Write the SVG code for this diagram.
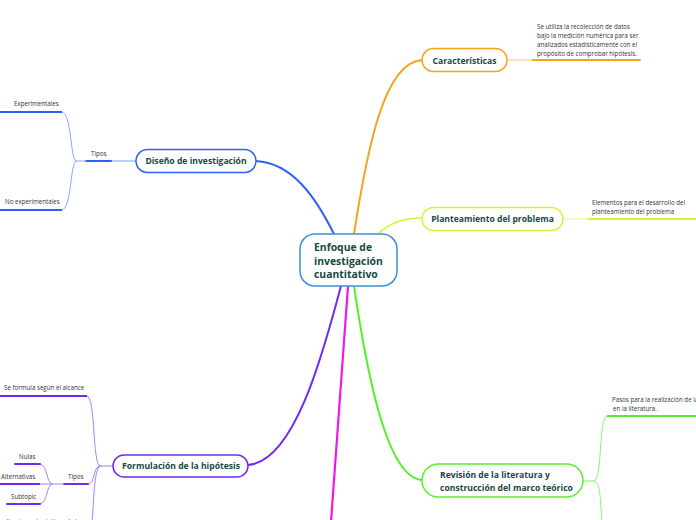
<svg xmlns="http://www.w3.org/2000/svg" width="696" height="520" viewBox="0 0 696 520">
<style>
.node{fill:#ffffff;stroke-width:1.5}
.lbl{font-family:"Open Sans","Liberation Sans",sans-serif;font-weight:700;font-size:8.6px;fill:#174a3f}
.clbl{font-family:"Open Sans","Liberation Sans",sans-serif;font-weight:700;font-size:10.4px;fill:#174a3f}
.sm{font-family:"Open Sans","Liberation Sans",sans-serif;font-size:6.2px;fill:#333333}
.c{fill:none;stroke-linecap:round}
</style>
<rect width="696" height="520" fill="#ffffff"/>
<g id="connectors">
  <!-- main connectors -->
  <path class="c" d="M354,234 C367,150 384,62 422,60" stroke="#f7a31c" stroke-width="2"/>
  <path class="c" d="M378,234 C390,222 405,218 422,218" stroke="#d6f23c" stroke-width="1.6"/>
  <path class="c" d="M334,234 C315,196 292,163 256,161" stroke="#2b62f5" stroke-width="2"/>
  <path class="c" d="M341,286 C325,345 296,462 248,465" stroke="#6f2bf2" stroke-width="2"/>
  <path class="c" d="M348,286 L331,522" stroke="#ee18ee" stroke-width="2.2"/>
  <path class="c" d="M354,286 C365,360 385,478 422,480" stroke="#55f02d" stroke-width="2"/>
  <!-- Características -->
  <path class="c" d="M507,60 L533,60" stroke="#fcd9a3" stroke-width="1.5"/>
  <path class="c" d="M533,60 L640,60" stroke="#f7a31c" stroke-width="2"/>
  <!-- Planteamiento -->
  <path class="c" d="M563,219 L588,219" stroke="#eef9ad" stroke-width="1.5"/>
  <path d="M588,219 L697,219" stroke="#d6f23c" stroke-width="2" fill="none"/>
  <!-- Diseño -->
  <path class="c" d="M136,161 L111,161" stroke="#a9c0fb" stroke-width="1.5"/>
  <path class="c" d="M111,161 L86,161" stroke="#2b62f5" stroke-width="2"/>
  <path class="c" d="M86,161 L76,161" stroke="#8aa8fa" stroke-width="1"/>
  <path class="c" d="M76,161 C70,160 72,113 62,112" stroke="#8aa8fa" stroke-width="1"/>
  <path class="c" d="M76,161 C70,162 72,209 62,210" stroke="#8aa8fa" stroke-width="1"/>
  <path d="M-1,112 L62,112" stroke="#2b62f5" stroke-width="2" fill="none"/>
  <path d="M-1,210 L62,210" stroke="#2b62f5" stroke-width="2" fill="none"/>
  <!-- Formulación -->
  <path class="c" d="M113,466 L100,466" stroke="#c2a6fa" stroke-width="1.5"/>
  <path class="c" d="M100,466 C92,465 96,397 87,396" stroke="#a783f7" stroke-width="1"/>
  <path class="c" d="M100,466 C92,467 96,484 88,484" stroke="#a783f7" stroke-width="1"/>
  <path class="c" d="M100,466 C94,468 94,500 92,522" stroke="#a783f7" stroke-width="1"/>
  <path d="M-1,396 L87,396" stroke="#6f2bf2" stroke-width="2" fill="none"/>
  <path class="c" d="M64,484 L88,484" stroke="#6f2bf2" stroke-width="2"/>
  <path class="c" d="M64,484 L52,484" stroke="#a783f7" stroke-width="1"/>
  <path class="c" d="M52,484 C46,483 48,465 40,464" stroke="#a783f7" stroke-width="1"/>
  <path class="c" d="M52,484 C46,485 48,503 40,504" stroke="#a783f7" stroke-width="1"/>
  <path class="c" d="M52,484 L40,484" stroke="#a783f7" stroke-width="1"/>
  <path class="c" d="M15,464 L40,464" stroke="#6f2bf2" stroke-width="2"/>
  <path d="M-1,484 L40,484" stroke="#6f2bf2" stroke-width="2" fill="none"/>
  <path class="c" d="M7,504 L40,504" stroke="#6f2bf2" stroke-width="2"/>
  <!-- Revisión -->
  <path class="c" d="M583,481 L594,481" stroke="#a8f59a" stroke-width="1.5"/>
  <path class="c" d="M594,481 C603,480 598,417 607,416" stroke="#8cf27a" stroke-width="1"/>
  <path class="c" d="M594,481 C601,482 600,500 602,522" stroke="#8cf27a" stroke-width="1"/>
  <path d="M607,416 L697,416" stroke="#55f02d" stroke-width="2" fill="none"/>
</g>
<g id="n-center">
  <rect class="node" x="300" y="234" width="97" height="52" rx="15" stroke="#3d8fd6"/>
  <text class="clbl" x="314" y="251">Enfoque de</text>
  <text class="clbl" x="314" y="265">investigación</text>
  <text class="clbl" x="314" y="278">cuantitativo</text>
</g>
<g id="n-caracteristicas">
  <rect class="node" x="422" y="48.5" width="85" height="23" rx="11.5" stroke="#f7a31c"/>
  <text class="lbl" x="464.5" y="63.5" text-anchor="middle">Características</text>
</g>
<g id="t-caracteristicas">
  <text class="sm" x="537" y="29">Se utiliza la recolección de datos</text>
  <text class="sm" x="537" y="38">bajo la medición numérica para ser</text>
  <text class="sm" x="537" y="47">analizados estadísticamente con el</text>
  <text class="sm" x="537" y="56">propósito de comprobar hipótesis.</text>
</g>
<g id="n-planteamiento">
  <rect class="node" x="422" y="207.5" width="141" height="23" rx="11.5" stroke="#d6f23c"/>
  <text class="lbl" x="492.5" y="222" text-anchor="middle">Planteamiento del problema</text>
</g>
<g id="t-planteamiento">
  <text class="sm" x="592" y="205">Elementos para el desarrollo del</text>
  <text class="sm" x="592" y="213.5">planteamiento del problema</text>
</g>
<g id="n-diseno">
  <rect class="node" x="136" y="149.5" width="120" height="23" rx="11.5" stroke="#2b62f5"/>
  <text class="lbl" x="196" y="164" text-anchor="middle">Diseño de investigación</text>
</g>
<g id="t-diseno">
  <text class="sm" x="91" y="155.5">Tipos</text>
  <text class="sm" x="14" y="105.5">Experimentales</text>
  <text class="sm" x="5" y="204">No experimentales</text>
</g>
<g id="n-formulacion">
  <rect class="node" x="113" y="455" width="135" height="22" rx="11" stroke="#6f2bf2"/>
  <text class="lbl" x="181" y="469" text-anchor="middle">Formulación de la hipótesis</text>
</g>
<g id="t-formulacion">
  <text class="sm" x="4" y="390">Se formula según el alcance</text>
  <text class="sm" x="68" y="478.5">Tipos</text>
  <text class="sm" x="19" y="458.5">Nulas</text>
  <text class="sm" x="1" y="478.5">Alternativas</text>
  <text class="sm" x="11" y="498.5">Subtopic</text>
  <text class="sm" x="80" y="524" text-anchor="end">Explicaciones tentativas de la</text>
</g>
<g id="n-revision">
  <rect class="node" x="422" y="464" width="161" height="33" rx="16.5" stroke="#55f02d"/>
  <text class="lbl" x="440" y="478">Revisión de la literatura y</text>
  <text class="lbl" x="440" y="491">construcción del marco teórico</text>
</g>
<g id="t-revision">
  <text class="sm" x="612" y="402">Pasos  para la realización de la</text>
  <text class="sm" x="613" y="411">en la literatura.</text>
</g>
</svg>
